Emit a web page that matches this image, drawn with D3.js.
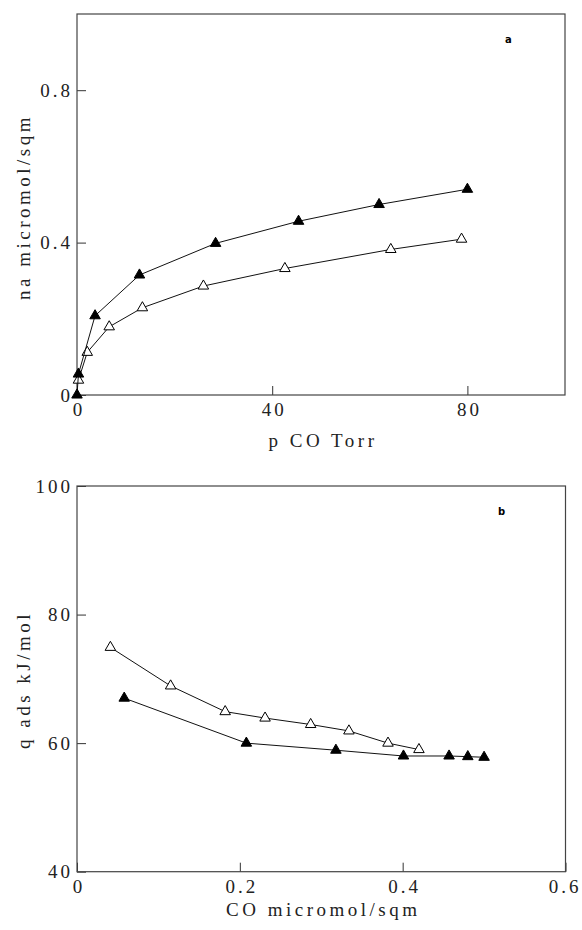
<!DOCTYPE html>
<html>
<head>
<meta charset="utf-8">
<script src="https://cdn.jsdelivr.net/npm/d3@7"></script>
<style>
  body { margin: 0; background: #fff; }
</style>
</head>
<body>
<script>
// panel a: adsorbed amount vs CO pressure
const pFilled = [0, 0.3, 3.7, 12.8, 28.4, 45.4, 61.9, 80];
const naFilled = [0, 0.055, 0.208, 0.315, 0.398, 0.456, 0.5, 0.54];
const pOpen = [0.3, 2.1, 6.6, 13.4, 25.9, 42.6, 64.3, 78.8];
const naOpen = [0.039, 0.112, 0.179, 0.229, 0.286, 0.332, 0.382, 0.409];
const aXTicks = [0, 40, 80];
const aYTicks = [0, 0.4, 0.8];

// panel b: heat of adsorption vs coverage
const coFilled = [0.058, 0.208, 0.318, 0.401, 0.457, 0.48, 0.5];
const qFilled = [67, 60, 58.9, 58, 58, 57.9, 57.8];
const coOpen = [0.041, 0.115, 0.182, 0.231, 0.287, 0.334, 0.382, 0.42];
const qOpen = [74.9, 68.9, 64.9, 63.9, 62.9, 61.9, 60, 59];
const bXTicks = [0, 0.2, 0.4, 0.6];
const bYTicks = [40, 60, 80, 100];

const serif = '"Liberation Serif", "DejaVu Serif", serif';
const width = 582, height = 930;

const svg = d3.select('body')
  .append('svg')
  .attr('width', width)
  .attr('height', height);

const tri = d3.symbol().type(d3.symbolTriangle).size(48);

function panel(opt) {
  const x = d3.scaleLinear().domain(opt.xDomain).range([opt.left, opt.left + opt.w]);
  const y = d3.scaleLinear().domain(opt.yDomain).range([opt.top + opt.h, opt.top]);

  const g = svg.append('g');

  // axes, ticks pointing inwards
  const xAxis = g.append('g')
    .attr('transform', `translate(0,${opt.top + opt.h})`)
    .call(d3.axisBottom(x).tickValues(opt.xTicks).tickSize(-9).tickPadding(8).tickFormat(d3.format('')));
  const yAxis = g.append('g')
    .attr('transform', `translate(${opt.left},0)`)
    .call(d3.axisLeft(y).tickValues(opt.yTicks).tickSize(-9).tickPadding(4).tickFormat(d3.format('')));

  [xAxis, yAxis].forEach((a) => {
    a.attr('font-family', null).attr('font-size', null);
    a.select('.domain').remove();
    a.selectAll('line').attr('stroke', '#333');
    a.selectAll('text')
      .style('font-family', serif)
      .style('font-size', '19px')
      .attr('letter-spacing', 3)
      .attr('fill', '#222');
  });
  // letter-spacing adds a trailing gap, nudge labels back to centre
  xAxis.selectAll('text').attr('dx', (d) => (d === opt.xDomain[1] ? -1 : 1.5));

  // frame
  g.append('rect')
    .attr('x', opt.left)
    .attr('y', opt.top)
    .attr('width', opt.w)
    .attr('height', opt.h)
    .attr('fill', 'none')
    .attr('stroke', '#444')
    .attr('stroke-width', 1.2);

  // axis titles
  g.append('text')
    .attr('x', opt.left + opt.w / 2 + 2)
    .attr('y', opt.top + opt.h + opt.xTitleDy)
    .attr('text-anchor', 'middle')
    .style('font-family', serif)
    .style('font-size', '19px')
    .attr('letter-spacing', 3.5)
    .attr('fill', '#222')
    .text(opt.xTitle);
  g.append('text')
    .attr('transform', `translate(${opt.yTitleX},${opt.yTitleY}) rotate(-90)`)
    .attr('text-anchor', 'middle')
    .style('font-family', serif)
    .style('font-size', '19px')
    .attr('letter-spacing', 3.5)
    .attr('fill', '#222')
    .text(opt.yTitle);

  // panel letter
  g.append('text')
    .attr('x', opt.tagX)
    .attr('y', opt.tagY)
    .style('font-family', '"DejaVu Sans", sans-serif')
    .style('font-weight', 'bold')
    .style('font-size', '10px')
    .text(opt.tag);

  const line = d3.line().x((d) => x(d[0])).y((d) => y(d[1]));

  opt.series.forEach((s) => {
    const pts = d3.zip(s.xs, s.ys);
    g.append('path')
      .datum(pts)
      .attr('d', line)
      .attr('fill', 'none')
      .attr('stroke', '#111')
      .attr('stroke-width', 1);
    g.selectAll(null)
      .data(pts)
      .join('path')
      .attr('d', tri)
      .attr('transform', (d) => `translate(${x(d[0])},${y(d[1])})`)
      .attr('fill', s.filled ? '#000' : '#fff')
      .attr('stroke', '#000')
      .attr('stroke-width', 1);
  });
}

panel({
  left: 77, top: 14, w: 488, h: 381,
  xDomain: [0, 100], yDomain: [0, 1],
  xTicks: aXTicks, yTicks: aYTicks,
  xTitle: 'p CO Torr', yTitle: 'na micromol/sqm',
  xTitleDy: 52, yTitleX: 30, yTitleY: 207,
  tag: 'a', tagX: 505, tagY: 43,
  series: [
    { xs: pOpen, ys: naOpen, filled: false },
    { xs: pFilled, ys: naFilled, filled: true },
  ],
});

panel({
  left: 77, top: 486, w: 488.5, h: 385.7,
  xDomain: [0, 0.6], yDomain: [40, 100],
  xTicks: bXTicks, yTicks: bYTicks,
  xTitle: 'CO micromol/sqm', yTitle: 'q ads kJ/mol',
  xTitleDy: 44, yTitleX: 30, yTitleY: 680,
  tag: 'b', tagX: 498, tagY: 515,
  series: [
    { xs: coOpen, ys: qOpen, filled: false },
    { xs: coFilled, ys: qFilled, filled: true },
  ],
});
</script>
</body>
</html>
